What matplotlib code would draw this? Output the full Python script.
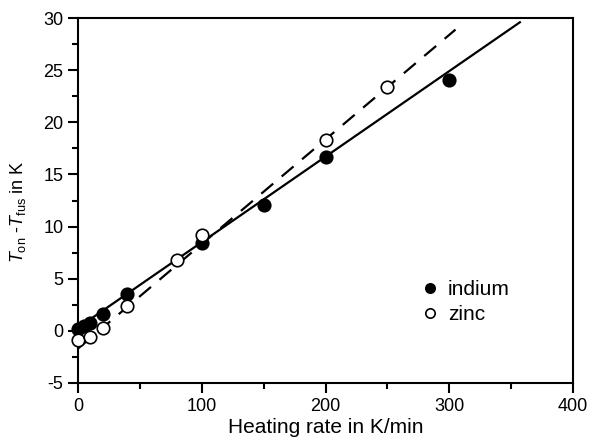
import matplotlib
matplotlib.use("Agg")
import matplotlib.pyplot as plt
import numpy as np
from matplotlib.ticker import MultipleLocator

plt.rcParams['font.family'] = ['Liberation Sans', 'DejaVu Sans']
plt.rcParams['mathtext.fontset'] = 'custom'
plt.rcParams['mathtext.it'] = 'Liberation Sans:italic'
plt.rcParams['mathtext.rm'] = 'Liberation Sans'
plt.rcParams['axes.unicode_minus'] = False

indium_rate = [0, 5, 10, 20, 40, 100, 150, 200, 300]
indium_dT = [0.2, 0.5, 0.8, 1.6, 3.5, 8.4, 12.1, 16.7, 24.1]
zinc_rate = [0, 10, 20, 40, 80, 100, 200, 250]
zinc_dT = [-0.9, -0.6, 0.3, 2.4, 6.8, 9.2, 18.3, 23.4]

indium_fit_x = [0, 357]
indium_fit_y = [0.3, 29.6]
zinc_fit_x = [0, 305]
zinc_fit_y = [-1.7, 28.9]

fig = plt.figure(figsize=(5.89, 4.42), dpi=100)
ax = fig.add_axes([0.1324, 0.1335, 0.8406, 0.8255])

ax.plot(indium_fit_x, indium_fit_y, color='black', lw=1.6, zorder=2)
ax.plot(zinc_fit_x, zinc_fit_y, color='black', lw=1.6, ls=(0, (7, 5)), zorder=2)

ax.plot(indium_rate, indium_dT, 'o', ms=9, mfc='black', mec='black', mew=1.2,
        ls='none', label='indium', zorder=3, clip_on=False)
ax.plot(zinc_rate, zinc_dT, 'o', ms=9, mfc='white', mec='black', mew=1.2,
        ls='none', label='zinc', zorder=4, clip_on=False)

ax.set_xlim(0, 400)
ax.set_ylim(-5, 30)
ax.xaxis.set_major_locator(MultipleLocator(100))
ax.xaxis.set_minor_locator(MultipleLocator(50))
ax.yaxis.set_major_locator(MultipleLocator(5))
ax.yaxis.set_minor_locator(MultipleLocator(2.5))
ax.tick_params(which='major', direction='out', length=7, width=1.5, labelsize=13)
ax.tick_params(axis='x', which='major', pad=4)
ax.tick_params(which='minor', direction='out', length=4.5, width=1.5)
for s in ax.spines.values():
    s.set_linewidth(1.5)

ax.set_xlabel('Heating rate in K/min', fontsize=15, labelpad=2)
ax.set_ylabel(r'$T_{\rm on}$ -$T_{\rm fus}$ in K', fontsize=13)
ax.yaxis.set_label_coords(-0.1, 0.47)

leg = ax.legend(loc='lower right', bbox_to_anchor=(0.91, 0.11), frameon=False,
                fontsize=15, handletextpad=0.25, labelspacing=0.3, handlelength=1.2,
                markerscale=0.75)

fig.savefig('out.png', dpi=100)
